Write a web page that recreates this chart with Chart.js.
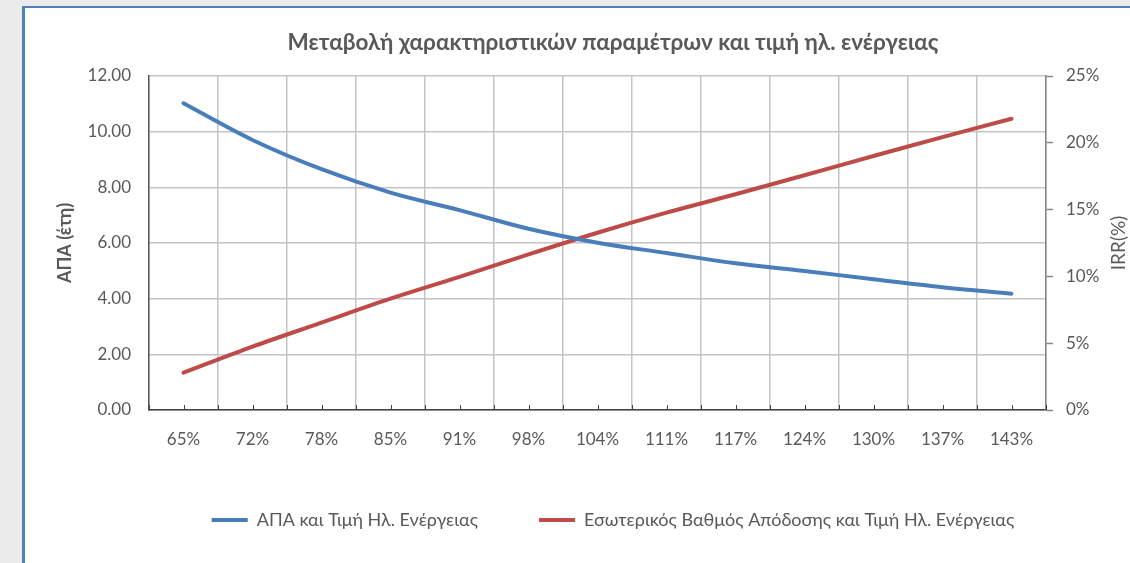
<!DOCTYPE html>
<html>
<head>
<meta charset="utf-8">
<script src="https://cdn.jsdelivr.net/npm/chart.js@4.4.1/dist/chart.umd.min.js"></script>
<style>
  html, body { margin: 0; padding: 0; width: 1130px; height: 563px; overflow: hidden; background: #ebebeb; }
  .frame { position: absolute; left: 22px; top: 6px; width: 1220px; height: 600px; background: #fff;
           border-left: 3px solid #4f81bd; border-top: 2px solid #4f81bd; }
  .chart-box { position: absolute; left: 0; top: 0; width: 1176px; height: 555px; }
</style>
</head>
<body>
<div class="frame"><div class="chart-box"><canvas id="chart"></canvas></div></div>
<script>
const categories = ['65%', '72%', '78%', '85%', '91%', '98%', '104%', '111%', '117%', '124%', '130%', '137%', '143%'];
const apaValues = [11.02, 9.70, 8.65, 7.81, 7.18, 6.51, 6.01, 5.64, 5.27, 4.99, 4.70, 4.41, 4.18];
const irrValues = [2.79, 4.74, 6.54, 8.33, 9.96, 11.65, 13.27, 14.77, 16.15, 17.57, 19.01, 20.43, 21.80];

const apaLabel = 'ΑΠΑ και Τιμή Ηλ. Ενέργειας';
const irrLabel = 'Εσωτερικός Βαθμός Απόδοσης και Τιμή Ηλ. Ενέργειας';
const chartTitle = 'Μεταβολή χαρακτηριστικών παραμέτρων και τιμή ηλ. ενέργειας';
const leftTitle = 'ΑΠΑ (έτη)';
const rightTitle = 'IRR(%)';

const FONT = "Lato, 'Open Sans', sans-serif";
const TEXT = '#595959';

// small inside tick marks on the category axis
const catTicks = {
    id: 'catTicks',
    afterDraw(chart) {
        const x = chart.scales.x;
        const ctx = chart.ctx;
        const bottom = chart.chartArea.bottom;
        ctx.save();
        ctx.strokeStyle = '#404040';
        ctx.lineWidth = 1;
        ctx.beginPath();
        for (let i = 0; i <= categories.length; i++) {
            const px = Math.round(x.getPixelForValue(i - 0.5)) + 0.5;
            ctx.moveTo(px, bottom);
            ctx.lineTo(px, bottom - 5);
            if (i < categories.length) {
                const pc = Math.round(x.getPixelForValue(i)) + 0.5;
                ctx.moveTo(pc, bottom);
                ctx.lineTo(pc, bottom - 5);
            }
        }
        ctx.stroke();
        ctx.restore();
    }
};

// right axis title, reading bottom to top
const rightAxisTitle = {
    id: 'rightAxisTitle',
    afterDraw(chart) {
        const ctx = chart.ctx;
        const area = chart.chartArea;
        ctx.save();
        ctx.translate(1094, (area.top + area.bottom) / 2);
        ctx.rotate(-Math.PI / 2);
        ctx.font = `19px ${FONT}`;
        ctx.fillStyle = TEXT;
        ctx.textAlign = 'center';
        ctx.textBaseline = 'middle';
        ctx.fillText(rightTitle, 0, 0);
        ctx.restore();
    }
};

new Chart(document.getElementById('chart'), {
    type: 'line',
    data: {
        labels: categories,
        datasets: [
            {
                label: apaLabel,
                data: apaValues,
                yAxisID: 'y',
                borderColor: '#4a7ebb',
                backgroundColor: '#4a7ebb',
                borderWidth: 4,
                borderCapStyle: 'round',
                pointRadius: 0,
                tension: 0.35
            },
            {
                label: irrLabel,
                data: irrValues,
                yAxisID: 'y2',
                borderColor: '#be4b48',
                backgroundColor: '#be4b48',
                borderWidth: 4,
                borderCapStyle: 'round',
                pointRadius: 0,
                tension: 0.35
            }
        ]
    },
    options: {
        responsive: true,
        maintainAspectRatio: false,
        animation: false,
        devicePixelRatio: 1,
        layout: { padding: { left: 0, right: 0, top: 0, bottom: 24 } },
        scales: {
            x: {
                offset: true,
                grid: { offset: true, color: '#c4c4c4', lineWidth: 1.5, drawTicks: false },
                border: { color: '#404040', width: 1.5 },
                ticks: { color: TEXT, font: { family: FONT, size: 17 }, padding: 19, maxRotation: 0, autoSkip: false },
                afterFit(scale) { scale.height = 40; }
            },
            y: {
                position: 'left',
                min: 0,
                max: 12,
                grid: { color: '#c4c4c4', lineWidth: 1.5, drawTicks: false },
                border: { color: '#595959', width: 1.5 },
                ticks: { stepSize: 2, color: TEXT, font: { family: FONT, size: 17 }, padding: 18,
                         callback: v => v.toFixed(2) },
                title: { display: true, text: leftTitle, color: TEXT,
                         font: { family: FONT, size: 18, weight: 'bold' }, padding: { top: 29, bottom: 0 } },
                afterFit(scale) { scale.width = 124; }
            },
            y2: {
                position: 'right',
                min: 0,
                max: 25,
                grid: { drawOnChartArea: false, drawTicks: true, tickLength: 7, tickColor: '#868686', tickWidth: 1.5 },
                border: { color: '#868686', width: 1.5 },
                ticks: { stepSize: 5, color: TEXT, font: { family: FONT, size: 17 }, padding: 13,
                         callback: v => v + '%' },
                afterFit(scale) { scale.width = 155; }
            }
        },
        plugins: {
            title: {
                display: true,
                text: chartTitle,
                color: TEXT,
                font: { family: FONT, size: 22.5, weight: 'bold' },
                padding: { top: 21.5, bottom: 19.5 }
            },
            legend: {
                position: 'bottom',
                labels: {
                    color: TEXT,
                    font: { family: FONT, size: 18 },
                    boxWidth: 36,
                    boxHeight: 4,
                    padding: 61,
                    generateLabels(chart) {
                        return Chart.defaults.plugins.legend.labels.generateLabels(chart).map(item => {
                            item.fillStyle = item.strokeStyle;
                            item.lineWidth = 0;
                            return item;
                        });
                    }
                }
            },
            tooltip: { enabled: false }
        }
    },
    plugins: [catTicks, rightAxisTitle]
});
</script>
</body>
</html>
